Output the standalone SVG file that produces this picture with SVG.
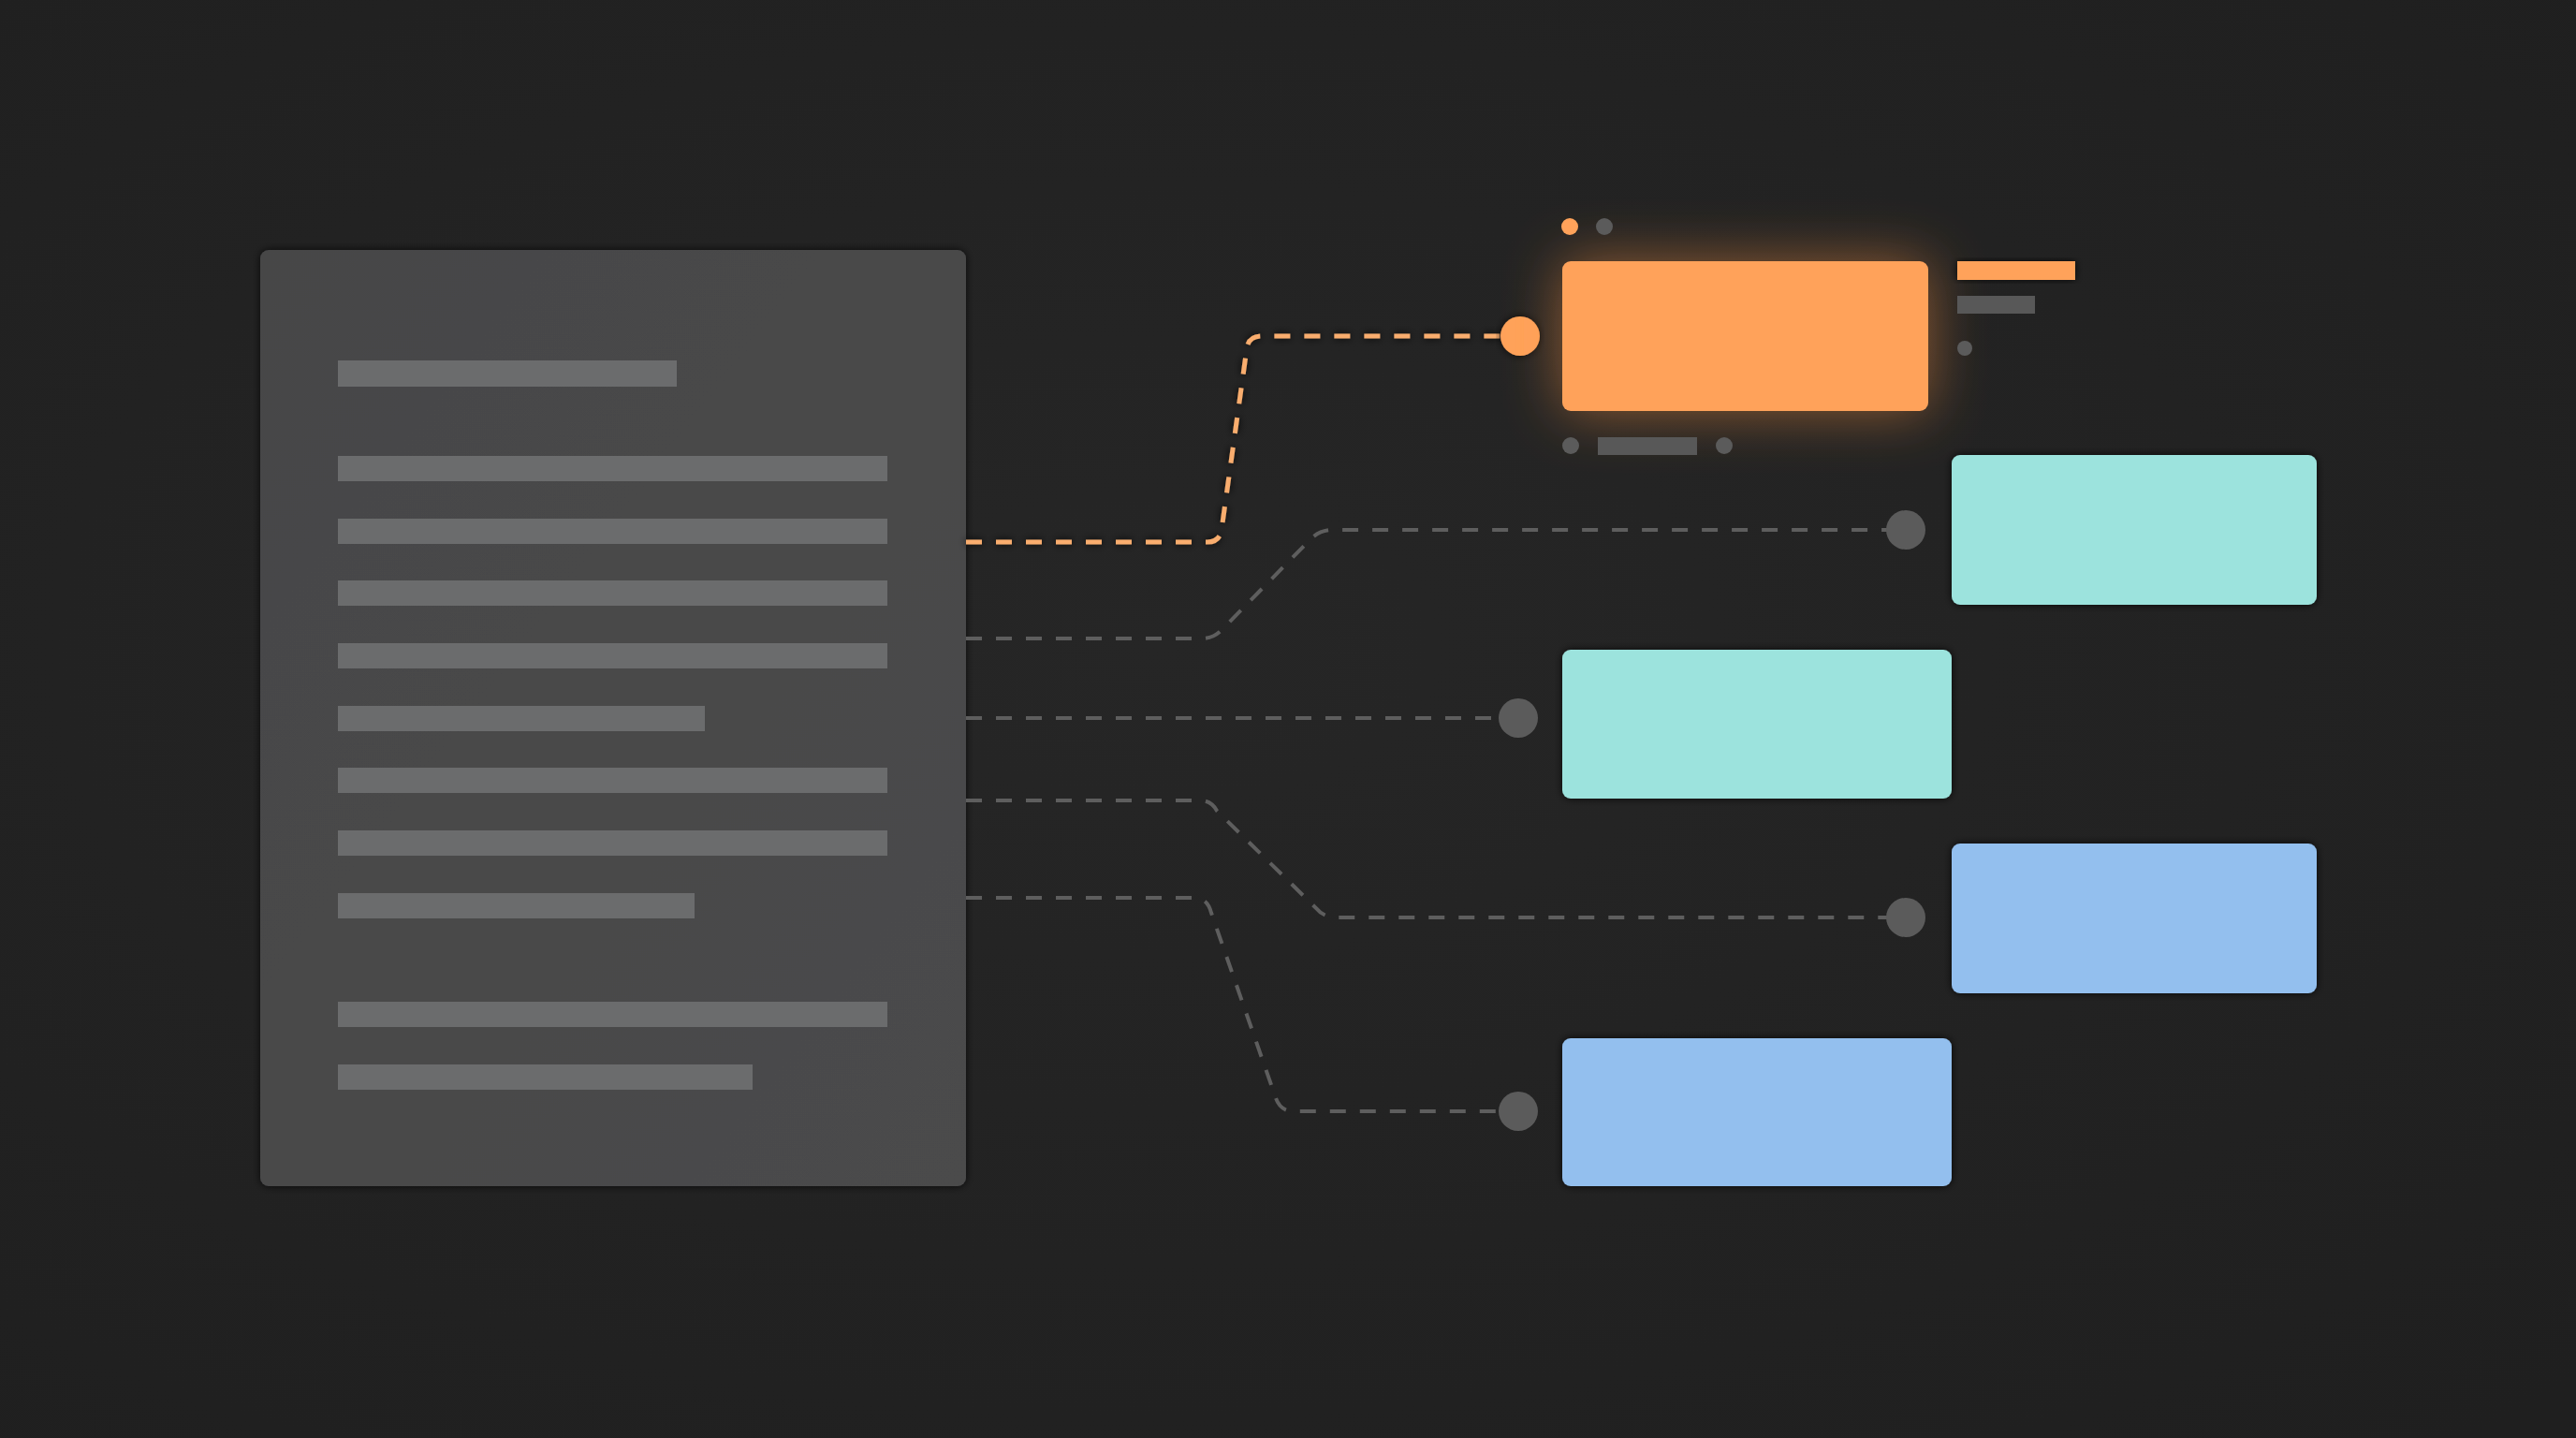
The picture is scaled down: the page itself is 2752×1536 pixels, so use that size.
<svg xmlns="http://www.w3.org/2000/svg" width="2752" height="1536" viewBox="0 0 2752 1536">
<defs>
<radialGradient id="bg" cx="0.45" cy="0.45" r="0.75">
<stop offset="0" stop-color="#262626"/>
<stop offset="1" stop-color="#1f1f1f"/>
</radialGradient>
<linearGradient id="panel" x1="0" y1="0" x2="1" y2="1">
<stop offset="0" stop-color="#464647"/>
<stop offset="1" stop-color="#4b4b4c"/>
</linearGradient>
<filter id="glow" x="-40%" y="-80%" width="180%" height="260%">
<feGaussianBlur in="SourceAlpha" stdDeviation="30" result="b"/>
<feFlood flood-color="#ff9440" flood-opacity="0.5"/>
<feComposite in2="b" operator="in" result="g"/>
<feMerge><feMergeNode in="g"/><feMergeNode in="SourceGraphic"/></feMerge>
</filter>
<filter id="shadow" x="-10%" y="-20%" width="120%" height="140%">
<feGaussianBlur in="SourceAlpha" stdDeviation="4" result="b"/>
<feFlood flood-color="#0a0a0a" flood-opacity="0.8"/>
<feComposite in2="b" operator="in" result="g"/>
<feMerge><feMergeNode in="g"/><feMergeNode in="SourceGraphic"/></feMerge>
</filter>
<filter id="lineShadow" x="-5%" y="-5%" width="110%" height="110%">
<feGaussianBlur in="SourceAlpha" stdDeviation="4" result="b"/>
<feFlood flood-color="#0d0d0d" flood-opacity="0.9"/>
<feComposite in2="b" operator="in" result="g"/>
<feMerge><feMergeNode in="g"/><feMergeNode in="SourceGraphic"/></feMerge>
</filter>
</defs>
<style>
.line{fill:#6b6c6d}
.gray{fill:none;stroke:#5e5e5e;stroke-width:4;stroke-dasharray:17 15}
.orange{fill:none;stroke:#f9ad6e;stroke-width:5;stroke-dasharray:17 15}
.dot{fill:#5b5b5b}
.odot{fill:#ffa25a}
.teal{fill:#9ce3dd}
.blue{fill:#93bfee}
.bar{fill:#585858}
</style>
<rect x="0" y="0" width="2752" height="1536" fill="url(#bg)"/>

<g id="document">
<rect x="278" y="267" width="754" height="1000" rx="9" fill="url(#panel)" filter="url(#shadow)"/>
<rect class="line" x="361" y="385" width="362" height="28"/>
<rect class="line" x="361" y="487" width="587" height="27"/>
<rect class="line" x="361" y="554" width="587" height="27"/>
<rect class="line" x="361" y="620" width="587" height="27"/>
<rect class="line" x="361" y="687" width="587" height="27"/>
<rect class="line" x="361" y="754" width="392" height="27"/>
<rect class="line" x="361" y="820" width="587" height="27"/>
<rect class="line" x="361" y="887" width="587" height="27"/>
<rect class="line" x="361" y="954" width="381" height="27"/>
<rect class="line" x="361" y="1070" width="587" height="27"/>
<rect class="line" x="361" y="1137" width="443" height="27"/>
</g>

<g id="connectors">
<path class="gray" d="M1032,682 H1284 Q1296,682 1305,673 L1400,576 Q1410,566 1424,566 H2036"/>
<path class="gray" d="M1032,767 H1622"/>
<path class="gray" d="M1032,855 H1282 Q1294,855 1300,866 L1406,970 Q1414,980 1428,980 H2036"/>
<path class="gray" d="M1032,959 H1276 Q1290,959 1294,975 L1363,1173 Q1368,1187 1382,1187 H1622"/>
<path class="orange" filter="url(#lineShadow)" d="M1032,579 H1290 Q1303,579 1305,566 L1332,372 Q1334,359 1348,359 H1624"/>
<circle class="dot" cx="2036" cy="566" r="21"/>
<circle class="dot" cx="1622" cy="767" r="21"/>
<circle class="dot" cx="2036" cy="980" r="21"/>
<circle class="dot" cx="1622" cy="1187" r="21"/>
<circle class="odot" cx="1624" cy="359" r="21" filter="url(#shadow)"/>
</g>

<g id="node-orange">
<rect x="1669" y="279" width="391" height="160" rx="9" fill="#ffa25a" filter="url(#glow)"/>
<circle class="odot" cx="1677" cy="242" r="9"/>
<circle class="dot" cx="1714" cy="242" r="9"/>
<rect x="2091" y="279" width="126" height="20" fill="#ffa25a" filter="url(#shadow)"/>
<rect class="bar" x="2091" y="316" width="83" height="19"/>
<circle class="dot" cx="2099" cy="372" r="8"/>
<circle class="dot" cx="1678" cy="476" r="9"/>
<rect class="bar" x="1707" y="467" width="106" height="19"/>
<circle class="dot" cx="1842" cy="476" r="9"/>
</g>

<g id="node-teal-1">
<rect class="teal" x="2085" y="486" width="390" height="160" rx="9" filter="url(#shadow)"/>
</g>
<g id="node-teal-2">
<rect class="teal" x="1669" y="694" width="416" height="159" rx="9" filter="url(#shadow)"/>
</g>
<g id="node-blue-1">
<rect class="blue" x="2085" y="901" width="390" height="160" rx="9" filter="url(#shadow)"/>
</g>
<g id="node-blue-2">
<rect class="blue" x="1669" y="1109" width="416" height="158" rx="9" filter="url(#shadow)"/>
</g>
</svg>
